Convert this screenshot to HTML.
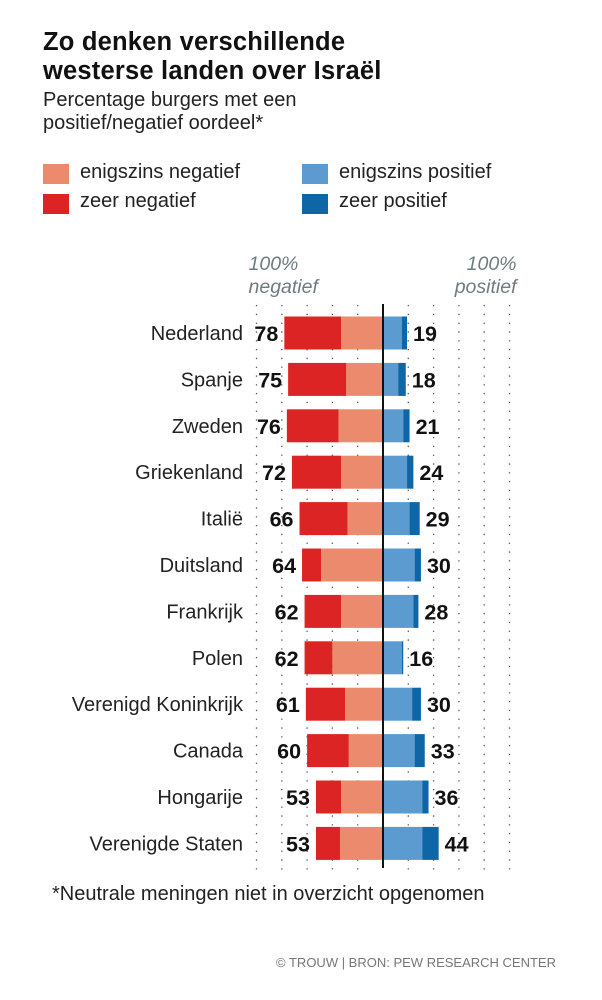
<!DOCTYPE html>
<html><head><meta charset="utf-8"><style>
body{margin:0;background:#fff;font-family:"Liberation Sans",sans-serif;color:#111;}
#wrap{position:relative;width:602px;height:1000px;overflow:hidden;}
.t{position:absolute;white-space:nowrap;}
</style></head><body>
<div id="wrap">
<div class="t" style="left:43px;top:28px;font-size:25.5px;font-weight:bold;line-height:29px;letter-spacing:0.2px;">Zo denken verschillende<br>westerse landen over Israël</div>
<div class="t" style="left:43px;top:89px;font-size:20px;line-height:23px;color:#222;">Percentage burgers met een<br>positief/negatief oordeel*</div>
<div>
<div class="t" style="left:43px;top:164px;width:26px;height:20px;background:#ec8a6e"></div>
<div class="t" style="left:80px;top:161px;font-size:20px;color:#222">enigszins negatief</div>
<div class="t" style="left:43px;top:194px;width:26px;height:20px;background:#dd2424"></div>
<div class="t" style="left:80px;top:190px;font-size:20px;color:#222">zeer negatief</div>
<div class="t" style="left:302px;top:164px;width:26px;height:20px;background:#5b9bcf"></div>
<div class="t" style="left:339px;top:161px;font-size:20px;color:#222">enigszins positief</div>
<div class="t" style="left:302px;top:194px;width:26px;height:20px;background:#0f66a6"></div>
<div class="t" style="left:339px;top:190px;font-size:20px;color:#222">zeer positief</div>
</div>
<svg id="chart" width="602" height="1000" style="position:absolute;left:0;top:0"></svg>
<div class="t" style="left:52px;top:883px;font-size:20px;color:#222">*Neutrale meningen niet in overzicht opgenomen</div>
<div class="t" style="right:46px;top:955px;font-size:13px;color:#777">© TROUW | BRON: PEW RESEARCH CENTER</div>
</div>
<script>
const countries=["Nederland","Spanje","Zweden","Griekenland","Italië","Duitsland","Frankrijk","Polen","Verenigd Koninkrijk","Canada","Hongarije","Verenigde Staten"];
const negTotal=[78,75,76,72,66,64,62,62,61,60,53,53];
const veryNeg=[45,46,41,39,38,15,29,22,31,33,20,19];
const posTotal=[19,18,21,24,29,30,28,16,30,33,36,44];
const veryPos=[4,6,5,5,8,5,4,1,7,8,5,13];
const gridTicks=[20,40,60,80,100];
const NS="http://www.w3.org/2000/svg";
const svg=document.getElementById('chart');
const cx=383,scale=1.265,y0=333,step=46.4,bh=33;
const xNeg=v=>cx-v*scale, xPos=v=>cx+v*scale, yRow=i=>y0+i*step;
function mk(tag,attrs){const e=document.createElementNS(NS,tag);for(const k in attrs)e.setAttribute(k,attrs[k]);svg.appendChild(e);return e;}
gridTicks.forEach(t=>{[xNeg(t),xPos(t)].forEach(x=>{
 const l=mk('line',{x1:x,x2:x,y1:305,y2:870,stroke:'#555','stroke-width':1.3,'stroke-dasharray':'1.3 7.5'});
 
 
});});
let h=mk('text',{x:xNeg(100)-8,y:270,'font-size':19.5,'font-style':'italic',fill:'#6e7b80','font-family':'Liberation Sans, sans-serif'});h.innerHTML='<tspan x="'+(xNeg(100)-8)+'">100%</tspan><tspan x="'+(xNeg(100)-8)+'" dy="23">negatief</tspan>';


h=mk('text',{x:xPos(100)+7,y:270,'font-size':19.5,'font-style':'italic',fill:'#6e7b80','text-anchor':'end','font-family':'Liberation Sans, sans-serif'});h.innerHTML='<tspan x="'+(xPos(100)+7)+'">100%</tspan><tspan x="'+(xPos(100)+7)+'" dy="23">positief</tspan>';


countries.forEach((c,i)=>{
 const y=yRow(i);
 let e=mk('text',{x:243,y:y+7,'font-size':20,'text-anchor':'end',fill:'#222','font-family':'Liberation Sans, sans-serif'});e.textContent=c;
 
 
 e=mk('rect',{x:xNeg(negTotal[i]),y:y-bh/2,width:veryNeg[i]*scale,height:bh,fill:'#dd2424'});
 
 
 e=mk('rect',{x:xNeg(negTotal[i]-veryNeg[i]),y:y-bh/2,width:(negTotal[i]-veryNeg[i])*scale,height:bh,fill:'#ec8a6e'});
 
 
 e=mk('rect',{x:cx,y:y-bh/2,width:(posTotal[i]-veryPos[i])*scale,height:bh,fill:'#5b9bcf'});
 
 
 e=mk('rect',{x:xPos(posTotal[i]-veryPos[i]),y:y-bh/2,width:veryPos[i]*scale,height:bh,fill:'#0f66a6'});
 
 
 e=mk('text',{x:xNeg(negTotal[i])-6,y:y+8,'font-size':21.5,'font-weight':'bold','text-anchor':'end',fill:'#111','font-family':'Liberation Sans, sans-serif'});e.textContent=negTotal[i];
 
 
 e=mk('text',{x:xPos(posTotal[i])+6,y:y+8,'font-size':21.5,'font-weight':'bold',fill:'#111','font-family':'Liberation Sans, sans-serif'});e.textContent=posTotal[i];
 
 
});
const z=mk('line',{x1:cx,x2:cx,y1:304,y2:868,stroke:'#111','stroke-width':2});


</script>
</body></html>
